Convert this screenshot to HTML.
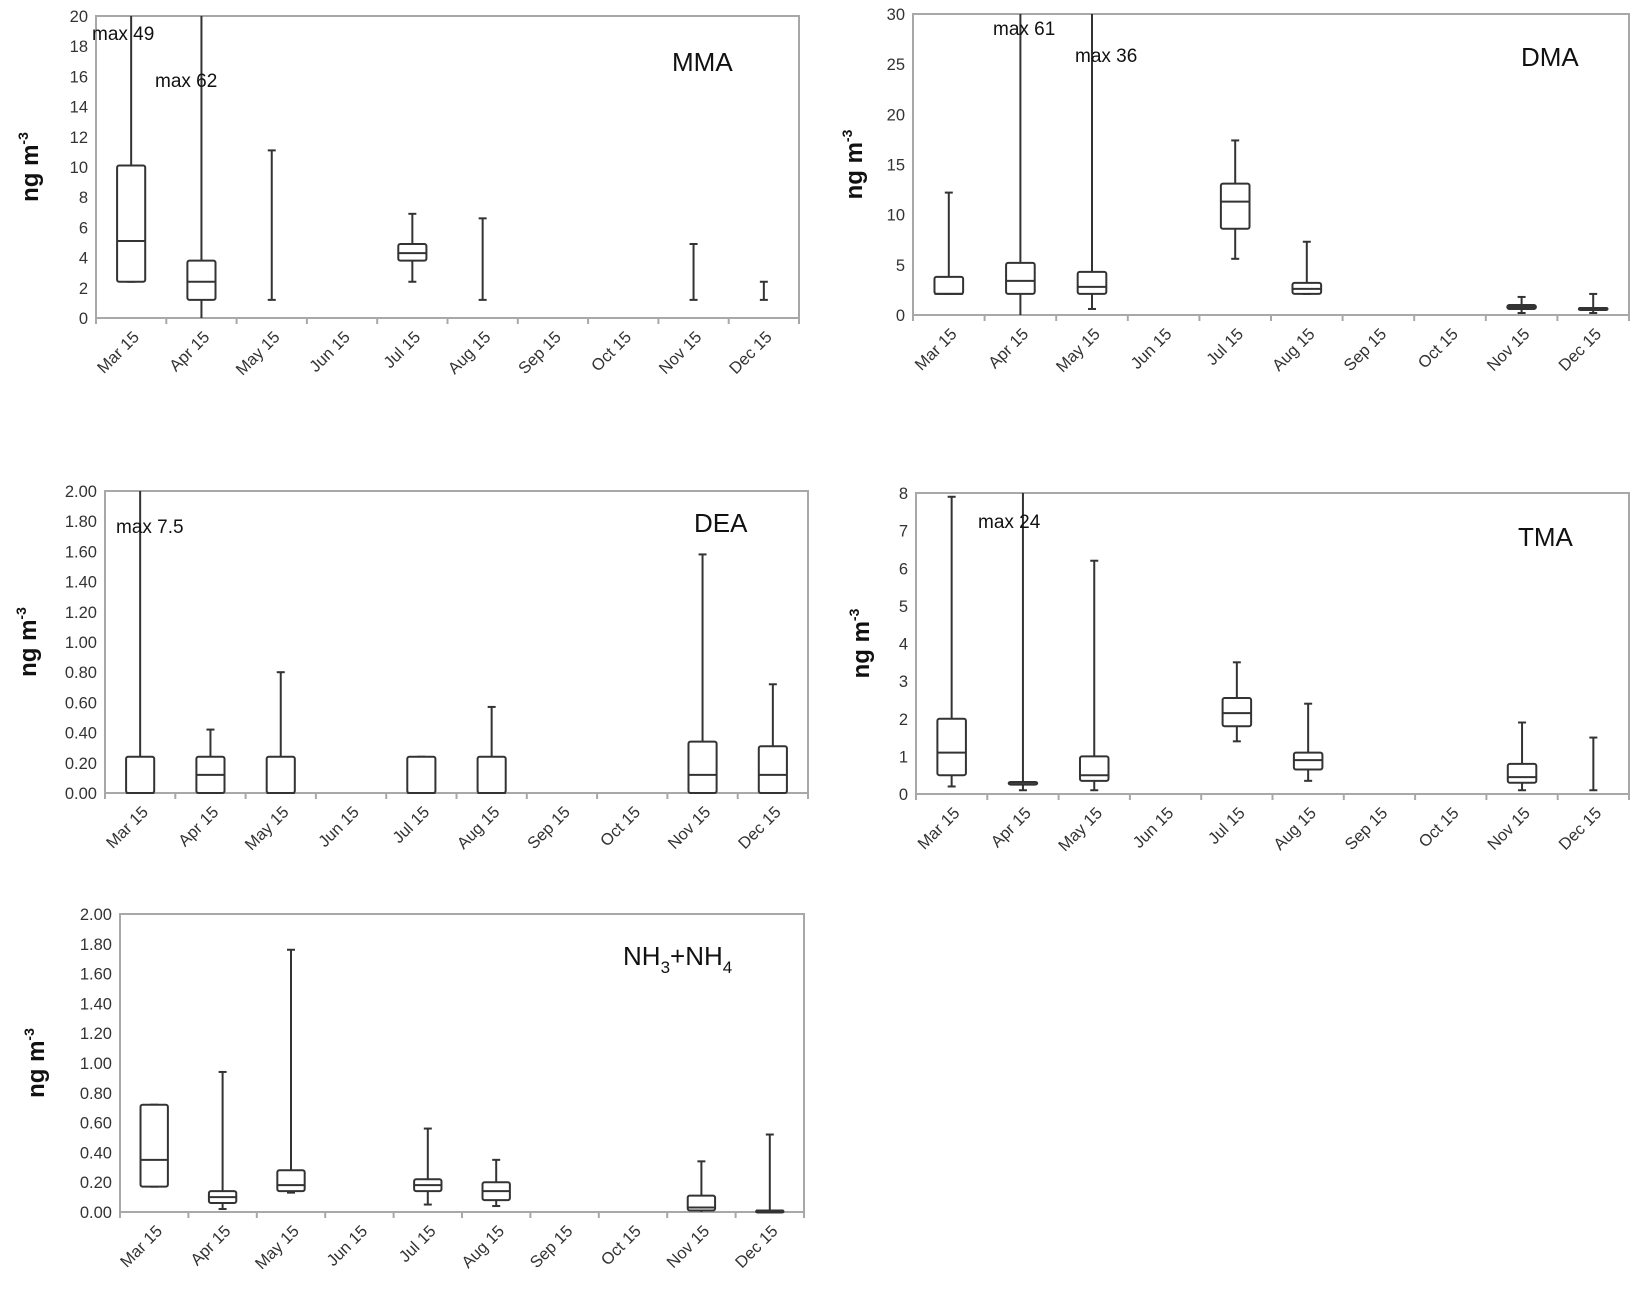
<!DOCTYPE html>
<html><head><meta charset="utf-8">
<style>
html,body{margin:0;padding:0;background:#fff;}
svg{display:block;font-family:"Liberation Sans",sans-serif;}
</style></head>
<body>
<svg id="fig" width="1641" height="1290" viewBox="0 0 1641 1290" xmlns="http://www.w3.org/2000/svg"></svg>
<script>
const months = ["Mar 15","Apr 15","May 15","Jun 15","Jul 15","Aug 15","Sep 15","Oct 15","Nov 15","Dec 15"];

// MMA
const mmaMin = [2.4, 0, 1.2, null, 2.4, 1.2, null, null, 1.2, 1.2];
const mmaQ1  = [2.4, 1.2, null, null, 3.8, null, null, null, null, null];
const mmaMed = [5.1, 2.4, null, null, 4.3, null, null, null, null, null];
const mmaQ3  = [10.1, 3.8, null, null, 4.9, null, null, null, null, null];
const mmaMax = [49, 62, 11.1, null, 6.9, 6.6, null, null, 4.9, 2.4];
const mmaTicks = ["0","2","4","6","8","10","12","14","16","18","20"];

// DMA
const dmaMin = [2.1, 0, 0.6, null, 5.6, 2.1, null, null, 0.2, 0.2];
const dmaQ1  = [2.1, 2.1, 2.1, null, 8.6, 2.1, null, null, 0.6, 0.6];
const dmaMed = [2.1, 3.4, 2.8, null, 11.3, 2.6, null, null, 0.8, 0.7];
const dmaQ3  = [3.8, 5.2, 4.3, null, 13.1, 3.2, null, null, 1.0, 0.7];
const dmaMax = [12.2, 61, 36, null, 17.4, 7.3, null, null, 1.8, 2.1];
const dmaTicks = ["0","5","10","15","20","25","30"];

// DEA
const deaMin = [0, 0, 0.12, null, 0, 0.12, null, null, 0, 0];
const deaQ1  = [0, 0, 0, null, 0, 0, null, null, 0, 0];
const deaMed = [0, 0.12, 0, null, 0, 0, null, null, 0.12, 0.12];
const deaQ3  = [0.24, 0.24, 0.24, null, 0.24, 0.24, null, null, 0.34, 0.31];
const deaMax = [7.5, 0.42, 0.80, null, 0.24, 0.57, null, null, 1.58, 0.72];
const deaTicks = ["0.00","0.20","0.40","0.60","0.80","1.00","1.20","1.40","1.60","1.80","2.00"];

// TMA
const tmaMin = [0.2, 0.1, 0.1, null, 1.4, 0.35, null, null, 0.1, 0.1];
const tmaQ1  = [0.5, 0.25, 0.35, null, 1.8, 0.65, null, null, 0.3, null];
const tmaMed = [1.1, 0.3, 0.5, null, 2.15, 0.9, null, null, 0.45, null];
const tmaQ3  = [2.0, 0.32, 1.0, null, 2.55, 1.1, null, null, 0.8, null];
const tmaMax = [7.9, 24, 6.2, null, 3.5, 2.4, null, null, 1.9, 1.5];
const tmaTicks = ["0","1","2","3","4","5","6","7","8"];

// NH3+NH4
const nhMin = [0.17, 0.02, 0.13, null, 0.05, 0.04, null, null, 0, 0];
const nhQ1  = [0.17, 0.06, 0.14, null, 0.14, 0.08, null, null, 0.01, 0];
const nhMed = [0.35, 0.10, 0.18, null, 0.18, 0.14, null, null, 0.03, 0.01];
const nhQ3  = [0.72, 0.14, 0.28, null, 0.22, 0.20, null, null, 0.11, 0.01];
const nhMax = [0.72, 0.94, 1.76, null, 0.56, 0.35, null, null, 0.34, 0.52];

const NS = "http://www.w3.org/2000/svg";
const svg = document.getElementById("fig");
function mk(tag, attrs, parent, text){
  const e = document.createElementNS(NS, tag);
  for (const k in attrs) e.setAttribute(k, attrs[k]);
  if (text !== undefined) e.textContent = text;
  (parent || svg).appendChild(e);
  return e;
}

function drawChart(key, box, ymax, ticks, mins, q1s, meds, q3s, maxs, title, annots, ylabX){
  const g = mk("g", {});
  
  
  const L = box[0], R = box[1], T = box[2], B = box[3];
  const n = months.length, cw = (R - L) / n;
  const yS = v => B - Math.min(v, ymax) / ymax * (B - T);
  const xS = i => L + cw * (i + 0.5);
  const frame = mk("rect", {x:L, y:T, width:R-L, height:B-T, fill:"none", stroke:"#a8a8a8", "stroke-width":2}, g);
  
  
  ticks.forEach((t, i) => {
    const v = ymax * i / (ticks.length - 1);
    const y = yS(v);
    const tl = mk("text", {x:L-8, y:y+6, "text-anchor":"end", "font-size":16.5, fill:"#333"}, g, t);
    
    
  });
  for (let i = 0; i <= n; i++) {
    const x = L + cw * i;
    mk("line", {x1:x, x2:x, y1:B, y2:B+6, stroke:"#a8a8a8", "stroke-width":2}, g);
  }
  months.forEach((m, i) => {
    const x = xS(i) + 9, y = B + 20;
    const tl = mk("text", {x:x, y:y, "text-anchor":"end", "font-size":16.5, fill:"#333", transform:`rotate(-45 ${x} ${y})`}, g, m);
    
    
  });
  const bw = cw * 0.4, cap = 4;
  months.forEach((m, i) => {
    if (maxs[i] === null) return;
    const x = xS(i);
    const bg = mk("g", {stroke:"#333", "stroke-width":2, fill:"#fff"}, g);
    
    
    mk("line", {x1:x, x2:x, y1:yS(mins[i]), y2:yS(maxs[i])}, bg);
    if (maxs[i] <= ymax) mk("line", {x1:x-cap, x2:x+cap, y1:yS(maxs[i]), y2:yS(maxs[i])}, bg);
    if (mins[i] > 0) mk("line", {x1:x-cap, x2:x+cap, y1:yS(mins[i]), y2:yS(mins[i])}, bg);
    if (q1s[i] !== null && q3s[i] !== null) {
      const top = yS(q3s[i]), bot = yS(q1s[i]);
      mk("rect", {x:x-bw/2, y:top, width:bw, height:Math.max(bot-top, 2), rx:2}, bg);
      if (meds[i] !== null) mk("line", {x1:x-bw/2, x2:x+bw/2, y1:yS(meds[i]), y2:yS(meds[i])}, bg);
    }
  });
  const tt = mk("text", {x:title.x, y:title.y, "font-size":26, fill:"#111"}, g);
  
  
  if (title.sub) {
    mk("tspan", {}, tt, "NH");
    mk("tspan", {"font-size":17, dy:8}, tt, "3");
    mk("tspan", {dy:-8}, tt, "+NH");
    mk("tspan", {"font-size":17, dy:8}, tt, "4");
  } else tt.textContent = title.t;
  annots.forEach(a => {
    const at = mk("text", {x:a[0], y:a[1], "font-size":19, fill:"#111"}, g, a[2]);
    
    
  });
  const cy = (T + B) / 2;
  const yl = mk("text", {x:ylabX, y:cy, "font-size":24, "font-weight":"bold", fill:"#111", "text-anchor":"middle", transform:`rotate(-90 ${ylabX} ${cy})`}, g);
  
  
  mk("tspan", {}, yl, "ng m");
  mk("tspan", {"font-size":14, dy:-10}, yl, "-3");
}

drawChart("mma", [96,799,16,318], 20, mmaTicks, mmaMin, mmaQ1, mmaMed, mmaQ3, mmaMax,
  {x:672, y:71, t:"MMA"}, [[92,40,"max  49"],[155,87,"max  62"]], 38);
drawChart("dma", [913,1629,14,315], 30, dmaTicks, dmaMin, dmaQ1, dmaMed, dmaQ3, dmaMax,
  {x:1521, y:66, t:"DMA"}, [[993,35,"max 61"],[1075,62,"max 36"]], 862);
drawChart("dea", [105,808,491,793], 2, deaTicks, deaMin, deaQ1, deaMed, deaQ3, deaMax,
  {x:694, y:532, t:"DEA"}, [[116,533,"max 7.5"]], 36);
drawChart("tma", [916,1629,493,794], 8, tmaTicks, tmaMin, tmaQ1, tmaMed, tmaQ3, tmaMax,
  {x:1518, y:546, t:"TMA"}, [[978,528,"max  24"]], 869);
drawChart("nh3", [120,804,914,1212], 2, deaTicks, nhMin, nhQ1, nhMed, nhQ3, nhMax,
  {x:623, y:965, sub:true}, [], 44);
</script>
</body></html>
